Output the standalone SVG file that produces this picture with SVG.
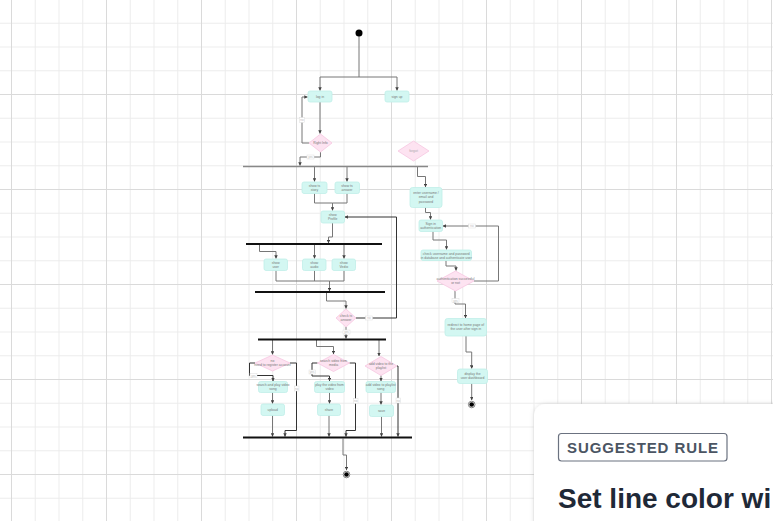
<svg xmlns="http://www.w3.org/2000/svg" width="773" height="521" viewBox="0 0 773 521">
<defs>
<pattern id="minor" patternUnits="userSpaceOnUse" x="11" y="-1" width="23.75" height="23.75">
<path d="M0.5 0V23.75M0 0.5H23.75" stroke="#ececec" stroke-width="1" fill="none"/>
</pattern>
<pattern id="major" patternUnits="userSpaceOnUse" x="11" y="-1" width="95" height="95">
<path d="M0.5 0V95M0 0.5H95" stroke="#dadada" stroke-width="1" fill="none"/>
</pattern>
<marker id="arr" viewBox="0 0 6 6" refX="5.5" refY="3" markerWidth="3.5" markerHeight="3.5" orient="auto">
<path d="M0 0L6 3L0 6Z" fill="#444"/>
</marker>
<filter id="sh" x="-10%" y="-20%" width="120%" height="140%">
<feDropShadow dx="0" dy="0" stdDeviation="2.5" flood-color="#000" flood-opacity="0.12"/>
</filter>
<style>
.box{fill:#d3f7f2;stroke:#c0efe9;stroke-width:0.8}
.dia{fill:#fde3f1;stroke:#f6c6e1;stroke-width:0.8}
.t{font-family:'Liberation Sans',Arial,sans-serif;font-size:3.4px;fill:#777;text-anchor:middle}
.c{fill:none;stroke:#777;stroke-width:1}
.cd{fill:none;stroke:#333;stroke-width:1}
.bar{stroke:#111;stroke-width:2}
.lb rect{fill:#fff;stroke:#ddd;stroke-width:0.5}
.lb text{font-family:'Liberation Sans',Arial,sans-serif;font-size:3px;fill:#bbb;text-anchor:middle}
</style>
</defs>
<rect width="773" height="521" fill="#fff"/>
<rect width="773" height="521" fill="url(#minor)"/>
<rect width="773" height="521" fill="url(#major)"/>

<g id="connectors">
<path class="c" d="M359 36V77H320V90.5" marker-end="url(#arr)"/>
<path class="c" d="M359 77H397V90.5" marker-end="url(#arr)"/>
<path class="c" d="M320 102V133.5" marker-end="url(#arr)"/>
<path class="c" d="M309 143H302V97H307.5" marker-end="url(#arr)"/>
<path class="c" d="M320.5 152V157H300V165.5" marker-end="url(#arr)"/>
<path class="c" d="M314.5 167V181.5" marker-end="url(#arr)"/>
<path class="c" d="M347 167V181.5" marker-end="url(#arr)"/>
<path class="c" d="M417.5 167V176.5H425.5V187" marker-end="url(#arr)"/>
<path class="c" d="M314.5 193.5V203H332.5V210.5" marker-end="url(#arr)"/>
<path class="c" d="M347 193.5V203H332.5"/>
<path class="c" d="M332.5 223V237H328.5V243" marker-end="url(#arr)"/>
<path class="c" d="M259.5 245V251.5H276V258.5" marker-end="url(#arr)"/>
<path class="c" d="M314.5 245V258.5" marker-end="url(#arr)"/>
<path class="c" d="M344 245V258.5" marker-end="url(#arr)"/>
<path class="c" d="M276 270.5V281H329.5V291" marker-end="url(#arr)"/>
<path class="c" d="M314.5 270.5V281"/>
<path class="c" d="M344 270.5V281H329.5"/>
<path class="c" d="M326.5 293V301H346V308.5" marker-end="url(#arr)"/>
<path class="cd" d="M356 318H396.5V217H345" marker-end="url(#arr)"/>
<path class="c" d="M346 327V338.5" marker-end="url(#arr)"/>
<path class="c" d="M272.5 340V354.5" marker-end="url(#arr)"/>
<path class="c" d="M316.5 340V346.5H333.5V354" marker-end="url(#arr)"/>
<path class="c" d="M379 340V356" marker-end="url(#arr)"/>
<path class="cd" d="M255 363H249.5V375.5H273V381" marker-end="url(#arr)"/>
<path class="cd" d="M290 363H296.5V430.5H285V436.5" marker-end="url(#arr)"/>
<path class="cd" d="M317.5 363H312V376H329.5V381" marker-end="url(#arr)"/>
<path class="cd" d="M349.5 363H355.5V430.5H346V436.5" marker-end="url(#arr)"/>
<path class="c" d="M381 375.5V381" marker-end="url(#arr)"/>
<path class="cd" d="M397 366H398V436.5" marker-end="url(#arr)"/>
<path class="c" d="M272.5 392.5V403.5" marker-end="url(#arr)"/>
<path class="c" d="M329.5 392.5V403.5" marker-end="url(#arr)"/>
<path class="c" d="M381 392.5V404.5" marker-end="url(#arr)"/>
<path class="c" d="M272.5 415.5V436.5" marker-end="url(#arr)"/>
<path class="c" d="M329 415.5V436.5" marker-end="url(#arr)"/>
<path class="c" d="M381.5 416.5V436.5" marker-end="url(#arr)"/>
<path class="c" d="M343 438.5V455H346.5V470" marker-end="url(#arr)"/>
<path class="c" d="M425.5 207.5V212.5H430.5V219.5" marker-end="url(#arr)"/>
<path class="c" d="M474 281H498.5V226H443" marker-end="url(#arr)"/>
<path class="c" d="M433 231.5V240H446.5V249.5" marker-end="url(#arr)"/>
<path class="c" d="M446 260.5V266H456V270.5" marker-end="url(#arr)"/>
<path class="c" d="M455 291V304H465.5V318" marker-end="url(#arr)"/>
<path class="c" d="M466 336V352H471.7V368.5" marker-end="url(#arr)"/>
<path class="c" d="M471.7 383.5V400" marker-end="url(#arr)"/>
<g class="lb">
<rect x="299.5" y="117.5" width="5" height="5"/><text x="302" y="121">no</text>
<rect x="307" y="155" width="7" height="4"/><text x="310.5" y="158">yes</text>
<rect x="365.5" y="316" width="7" height="4"/><text x="369" y="319">no</text>
<rect x="343" y="330" width="7" height="4"/><text x="346.5" y="333">yes</text>
<rect x="250" y="373.5" width="7" height="4"/><text x="253.5" y="376.5">yes</text>
<rect x="294.5" y="386" width="4.5" height="5"/><text x="296.7" y="389.5">no</text>
<rect x="309" y="370" width="6.5" height="4"/><text x="312.2" y="373">yes</text>
<rect x="353.5" y="398.5" width="4.5" height="5"/><text x="355.7" y="402">no</text>
<rect x="396" y="398" width="4.5" height="5"/><text x="398.2" y="401.5">no</text>
<rect x="468.5" y="224" width="7" height="4"/><text x="472" y="227">no</text>
<rect x="452" y="298.5" width="7" height="4"/><text x="455.5" y="301.5">yes</text>
</g>
</g>

<g id="start"><circle cx="359" cy="33" r="3.5" fill="#000"/></g>
<g id="login"><rect class="box" x="308" y="91" width="24" height="11" rx="2"/><text class="t" x="320" y="97.7">log in</text></g>
<g id="signup"><rect class="box" x="385" y="91" width="24" height="11" rx="2"/><text class="t" x="397" y="97.7">sign up</text></g>
<g id="rightinfo"><polygon class="dia" points="309,143 320.5,134 332,143 320.5,152"/><text class="t" x="320.5" y="144.2">Right Info</text></g>
<g id="forgot"><polygon class="dia" points="398,151 413.5,141 429,151 413.5,161"/><text class="t" x="413.5" y="152.2" style="fill:#aaa">forgot</text></g>
<g id="fork1"><line x1="243" y1="166.5" x2="428" y2="166.5" stroke="#888" stroke-width="1.5"/></g>
<g id="story"><rect class="box" x="302" y="182" width="25" height="11.5" rx="2"/><text class="t" x="314.5" y="187">show ts</text><text class="t" x="314.5" y="191.2">story</text></g>
<g id="answer"><rect class="box" x="335" y="182" width="24.5" height="11.5" rx="2"/><text class="t" x="347" y="187">show ts</text><text class="t" x="347" y="191.2">answer</text></g>
<g id="profile"><rect class="box" x="321" y="211" width="23.5" height="12" rx="2"/><text class="t" x="332.7" y="216.2">show</text><text class="t" x="332.7" y="220.4">Profile</text></g>
<g id="fork2"><line class="bar" x1="246" y1="244" x2="382" y2="244"/></g>
<g id="user"><rect class="box" x="264" y="259" width="23.5" height="11.5" rx="2"/><text class="t" x="275.7" y="264">show</text><text class="t" x="275.7" y="268.2">user</text></g>
<g id="audio"><rect class="box" x="302.5" y="259" width="23.5" height="11.5" rx="2"/><text class="t" x="314.3" y="264">show</text><text class="t" x="314.3" y="268.2">audio</text></g>
<g id="vedio"><rect class="box" x="332" y="259" width="23.5" height="11.5" rx="2"/><text class="t" x="343.8" y="264">show</text><text class="t" x="343.8" y="268.2">Vedio</text></g>
<g id="join3"><line class="bar" x1="255" y1="292" x2="385" y2="292"/></g>
<g id="check"><polygon class="dia" points="336,318 346,309 356,318 346,327"/><text class="t" x="346" y="317">check ts</text><text class="t" x="346" y="321">answer</text></g>
<g id="fork4"><line class="bar" x1="258" y1="339.5" x2="386" y2="339.5"/></g>
<g id="d1"><polygon class="dia" points="255,363 272.5,355 290,363 272.5,371"/><text class="t" x="272.5" y="362">no</text><text class="t" x="272.5" y="366">need to register account</text></g>
<g id="d2"><polygon class="dia" points="317.5,363 333.5,354.5 349.5,363 333.5,371.5"/><text class="t" x="333.5" y="362">search video from</text><text class="t" x="333.5" y="366">media</text></g>
<g id="d3"><polygon class="dia" points="365,366 381,356.5 397,366 381,375.5"/><text class="t" x="381" y="365">add video to the</text><text class="t" x="381" y="369">playlist</text></g>
<g id="b1"><rect class="box" x="258.5" y="381.5" width="29" height="11" rx="2"/><text class="t" x="273" y="386">search and play video</text><text class="t" x="273" y="390">song</text></g>
<g id="b2"><rect class="box" x="314.5" y="381.5" width="30" height="11" rx="2"/><text class="t" x="329.5" y="386">play the video from</text><text class="t" x="329.5" y="390">video</text></g>
<g id="b3"><rect class="box" x="366" y="381.5" width="29.5" height="11" rx="2"/><text class="t" x="380.7" y="386">add video to playlist</text><text class="t" x="380.7" y="390">song</text></g>
<g id="c1"><rect class="box" x="261" y="404" width="23.5" height="11.5" rx="2"/><text class="t" x="272.7" y="410.8">upload</text></g>
<g id="c2"><rect class="box" x="317.5" y="404" width="23" height="11.5" rx="2"/><text class="t" x="329" y="410.8">share</text></g>
<g id="c3"><rect class="box" x="369.5" y="405" width="24" height="11.5" rx="2"/><text class="t" x="381.5" y="411.8">save</text></g>
<g id="join5"><line class="bar" x1="243" y1="437.5" x2="412" y2="437.5"/></g>
<g id="end1"><circle cx="346.5" cy="474.5" r="3.3" fill="#fff" stroke="#666" stroke-width="0.8"/><circle cx="346.5" cy="474.5" r="2.3" fill="#000"/></g>
<g id="r1"><rect class="box" x="410" y="187.5" width="32" height="20" rx="2.5"/><text class="t" x="426" y="193.5">enter username /</text><text class="t" x="426" y="198">email and</text><text class="t" x="426" y="202.5">password</text></g>
<g id="r2"><rect class="box" x="419" y="220" width="23.5" height="11.5" rx="2"/><text class="t" x="430.7" y="225">Sign in</text><text class="t" x="430.7" y="229.2">authentication</text></g>
<g id="r3"><rect class="box" x="421" y="250" width="50.5" height="10.5" rx="2"/><text class="t" x="446.3" y="254.5">check username and password</text><text class="t" x="446.3" y="258.5">in database and authenticate user</text></g>
<g id="r4"><polygon class="dia" points="437,281 455.5,271 474,281 455.5,291"/><text class="t" x="455.5" y="280">authentication successful</text><text class="t" x="455.5" y="284">or not</text></g>
<g id="r5"><rect class="box" x="445" y="318.5" width="41.5" height="17.5" rx="2.5"/><text class="t" x="465.8" y="326">redirect to home page of</text><text class="t" x="465.8" y="330.2">the user after sign in</text></g>
<g id="r6"><rect class="box" x="457.5" y="369" width="30" height="14.5" rx="2.5"/><text class="t" x="472.5" y="375">display the</text><text class="t" x="472.5" y="379.2">user dashboard</text></g>
<g id="end2"><circle cx="471.7" cy="404.5" r="3.3" fill="#fff" stroke="#666" stroke-width="0.8"/><circle cx="471.7" cy="404.5" r="2.3" fill="#000"/></g>

<g id="card">
<rect x="534" y="404" width="270" height="150" rx="12" fill="#fff" filter="url(#sh)"/>
<rect x="558.5" y="433.5" width="168.5" height="27.5" rx="3" fill="#fff" stroke="#6b7280" stroke-width="1.2"/>
<text x="567" y="452.5" font-family="Liberation Sans, Arial, sans-serif" font-size="15" font-weight="bold" fill="#4b5563" textLength="151" lengthAdjust="spacing">SUGGESTED RULE</text>
<text x="558" y="508" font-family="Liberation Sans, Arial, sans-serif" font-size="28" font-weight="bold" fill="#1f2937">Set line color wi</text>
</g>
</svg>
